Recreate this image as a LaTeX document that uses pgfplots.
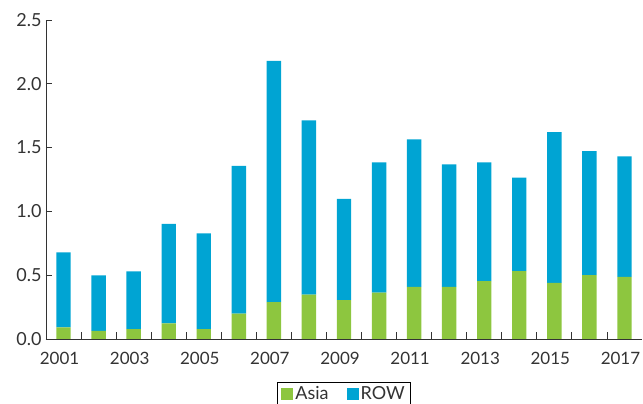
\documentclass[border=0pt]{standalone}
\usepackage{pgfplots}
\usepackage{pgfplotstable}
\pgfplotsset{compat=1.18}
\usepackage{fontspec}
\setmainfont{Lato}
\definecolor{asia}{HTML}{8DC63F}
\definecolor{rowc}{HTML}{00A4D3}
\definecolor{axisgray}{HTML}{333333}

\pgfplotstableread{
x asia row
0  0.092 0.586
1  0.063 0.435
2  0.078 0.451
3  0.123 0.780
4  0.078 0.749
5  0.199 1.157
6  0.288 1.892
7  0.348 1.366
8  0.304 0.795
9  0.364 1.021
10 0.408 1.157
11 0.408 0.961
12 0.453 0.932
13 0.531 0.733
14 0.440 1.182
15 0.500 0.973
16 0.487 0.945
}\data

\begin{document}
\begin{tikzpicture}
\begin{axis}[
  scale only axis, width=596pt, height=319pt,
  ybar stacked, bar width=14.4pt,
  xmin=-0.5, xmax=16.5, ymin=0, ymax=2.5,
  axis lines=left,
  axis line style={-, axisgray, line width=0.8pt},
  xtick={0,2,4,6,8,10,12,14,16},
  xticklabels={2001,2003,2005,2007,2009,2011,2013,2015,2017},
  major x tick style={draw=none},
  minor xtick={0.5,1.5,...,15.5},
  minor x tick style={axisgray, line width=0.8pt},
  minor tick length=6.5pt,
  ytick={0,0.5,1,1.5,2,2.5},
  y tick style={axisgray, line width=0.8pt},
  tick align=inside, major tick length=6pt,
  yticklabel style={/pgf/number format/fixed, /pgf/number format/precision=1, /pgf/number format/fixed zerofill, xshift=-1pt, font=\fontsize{18}{20}\selectfont},
  /pgf/number format/assume math mode=true,
  tick label style={text=axisgray},
  xticklabel style={yshift=-10pt, xshift=-4pt, font=\fontsize{17}{20}\selectfont},
  legend style={at={(0.5,-0.135)}, anchor=north, legend columns=2, draw=black, line width=0.6pt,
    font=\fontsize{18}{20}\selectfont, text=axisgray, inner xsep=4pt, inner ysep=2pt,
    /tikz/every even column/.append style={column sep=16pt}},
]
\addplot[fill=asia, draw=none, legend image code/.code={\fill[asia] (0pt,-6pt) rectangle (12pt,6pt);}] table[x=x,y=asia]{\data};
\addplot[fill=rowc, draw=none, legend image code/.code={\fill[rowc] (0pt,-6pt) rectangle (12pt,6pt);}] table[x=x,y=row]{\data};
\legend{Asia, ROW}
\end{axis}
\pgfresetboundingbox
\path (-46pt,-65pt) rectangle (597pt,339pt);
\end{tikzpicture}
\end{document}
